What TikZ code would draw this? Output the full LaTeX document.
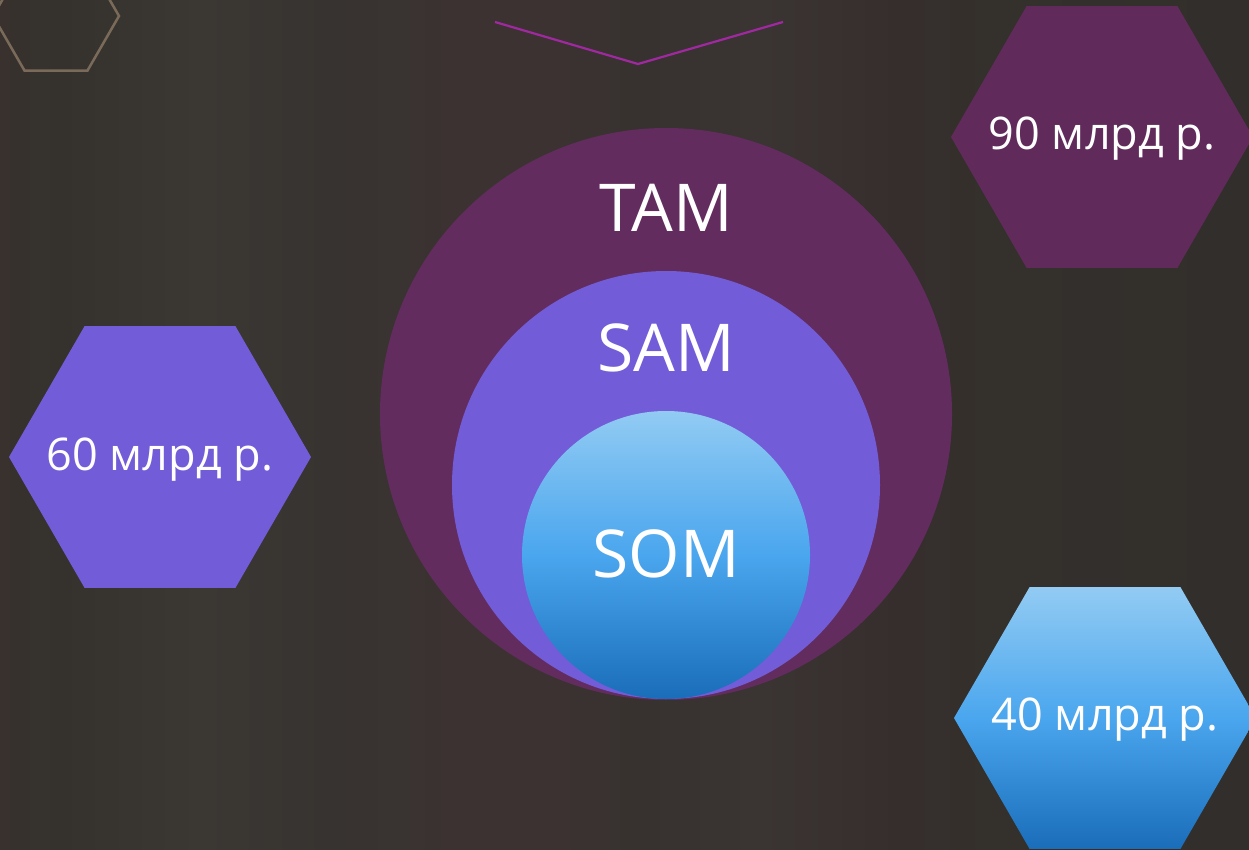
\documentclass[tikz,border=0pt]{standalone}
\usepackage{fontspec}
\setmainfont{Open Sans}
\usetikzlibrary{shapes.geometric}
\definecolor{bg0}{RGB}{56,49,46}
\definecolor{bg1}{RGB}{53,50,46}
\definecolor{bg2}{RGB}{59,55,51}
\definecolor{bg3}{RGB}{55,51,48}
\definecolor{bg4}{RGB}{61,50,50}
\definecolor{bg5}{RGB}{55,50,47}
\definecolor{bg6}{RGB}{58,52,50}
\definecolor{bg7}{RGB}{54,46,45}
\definecolor{bg8}{RGB}{52,48,44}
\definecolor{bg9}{RGB}{50,46,43}
\definecolor{tamc}{RGB}{98,44,94}
\definecolor{hexp}{RGB}{96,43,91}
\definecolor{samc}{RGB}{115,92,216}
\definecolor{blight}{RGB}{146,203,243}
\definecolor{bmid}{RGB}{74,166,238}
\definecolor{bdark}{RGB}{26,109,185}
\definecolor{vline}{RGB}{160,40,160}
\definecolor{tanline}{RGB}{122,106,90}
\pgfdeclarehorizontalshading{bgshade}{100bp}{color(0bp)=(bg0); color(25bp)=(bg0); color(27.4bp)=(bg1); color(33bp)=(bg2); color(38.2bp)=(bg3); color(45.8bp)=(bg4); color(50.6bp)=(bg5); color(55.4bp)=(bg6); color(61bp)=(bg7); color(65bp)=(bg8); color(75bp)=(bg9); color(100bp)=(bg9)}
\tikzset{
  ring/.style={circle, inner sep=0pt, draw=none},
  hexa/.style={regular polygon, regular polygon sides=6, minimum size=302pt, inner sep=0pt, draw=none},
  bigtext/.style={text=white, font=\fontsize{66}{72}\selectfont},
  hextext/.style={text=white, font=\fontsize{45}{50}\selectfont},
  bluegrad/.style={top color=blight, bottom color=bdark, middle color=bmid}
}
\begin{document}
\begin{tikzpicture}[x=1pt,y=-1pt]
\useasboundingbox (0,0) rectangle (1249,850);
\shade[shading=bgshade] (0,0) rectangle (1249,850);
% top-left hexagon outline
\node[hexa, minimum size=126pt, draw=tanline, line width=2.5pt] (hexo) at (56,16) {};
% V line
\coordinate (v1) at (495,22);
\coordinate (v2) at (638,64);
\coordinate (v3) at (783,22);
\draw[vline, line width=2.2pt] (v1) -- (v2) -- (v3);
% circles
\node[ring, fill=tamc, minimum size=572pt] (tam) at (666,414) {};
\node[ring, fill=samc, minimum size=428pt] (sam) at (666,485) {};
\node[ring, bluegrad, minimum size=288pt] (som) at (666,555) {};
\node[bigtext] (tamt) at (666,208) {TAM};
\node[bigtext] (samt) at (666,348) {SAM};
\node[bigtext] (somt) at (666,554) {SOM};
% hexagons
\node[hexa, fill=hexp] (h90) at (1102,137) {};
\node[hexa, fill=samc] (h60) at (160,457) {};
\node[hexa, bluegrad] (h40) at (1105,718) {};
\node[hextext] (t90) at ([yshift=-2pt]h90.center) {90 млрд р.};
\node[hextext] (t60) at ([yshift=-3pt]h60.center) {60 млрд р.};
\node[hextext] (t40) at ([yshift=-2pt]h40.center) {40 млрд р.};
\end{tikzpicture}
\end{document}
